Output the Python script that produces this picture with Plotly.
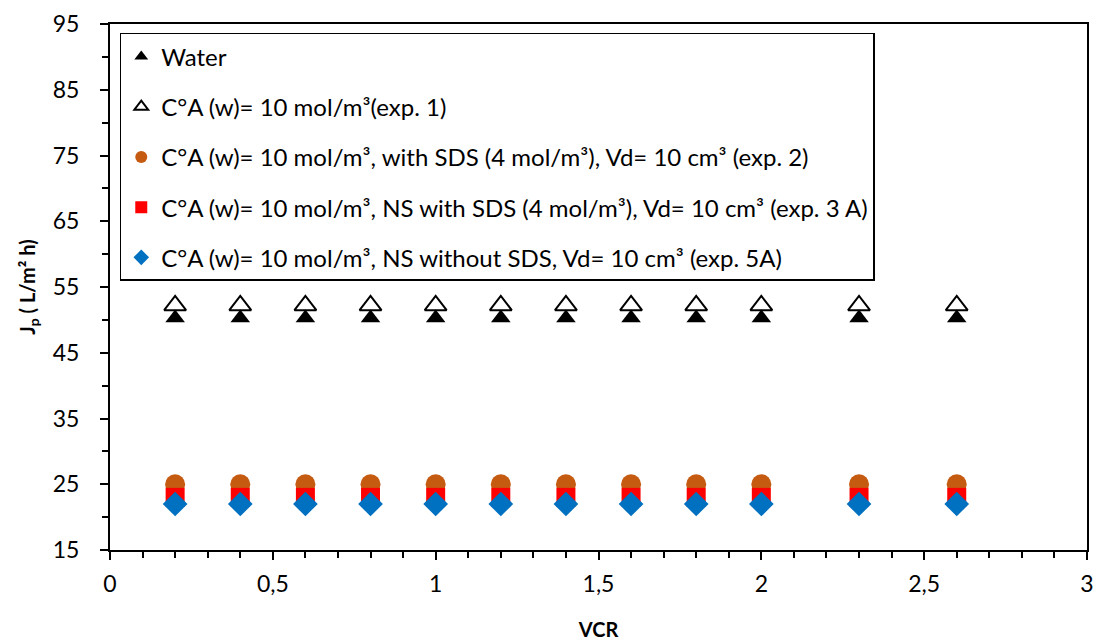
import plotly.graph_objects as go

vcr = [0.2, 0.4, 0.6, 0.8, 1.0, 1.2, 1.4, 1.6, 1.8, 2.0, 2.3, 2.6]
water = [50.3] * 12
exp1 = [52.2] * 12
exp2 = [25.0] * 12
exp3a = [23.0] * 12
exp5a = [22.0] * 12

names = [
    "Water",
    "C°A (w)= 10 mol/m³(exp. 1)",
    "C°A (w)= 10 mol/m³, with SDS (4 mol/m³), Vd= 10 cm³ (exp. 2)",
    "C°A (w)= 10 mol/m³, NS with SDS (4 mol/m³), Vd= 10 cm³ (exp. 3 A)",
    "C°A (w)= 10 mol/m³, NS without SDS, Vd= 10 cm³ (exp. 5A)",
]

FONT = "Lato"
fig = go.Figure()

specs = [
    (water, dict(symbol="triangle-up", size=17, color="black", line=dict(width=0))),
    (exp1, dict(symbol="triangle-up-open", size=19, color="black", line=dict(width=2))),
    (exp2, dict(symbol="circle", size=20, color="#C55A11", line=dict(width=0))),
    (exp3a, dict(symbol="square", size=19, color="#FF0000", line=dict(width=0))),
    (exp5a, dict(symbol="diamond", size=19, color="#0070C0", line=dict(width=0))),
]
order = [1, 0, 2, 3, 4]
for i in order:
    ys, mk = specs[i]
    fig.add_trace(go.Scatter(x=vcr, y=ys, mode="markers", name=names[i],
                             marker=mk, legendgroup=str(i), legendrank=i + 1))

fig.update_layout(
    width=1100, height=644,
    margin=dict(l=110, r=6, t=24, b=92),
    plot_bgcolor="white", paper_bgcolor="white",
    font=dict(family=FONT, color="black", size=22),
    showlegend=True,
    legend=dict(x=0.01, y=0.983, xanchor="left", yanchor="top",
                bgcolor="white", bordercolor="black", borderwidth=1.5,
                font=dict(family=FONT, size=24), tracegroupgap=16,
                traceorder="grouped", itemsizing="constant"),
    xaxis=dict(range=[0, 3], tickvals=[0, 0.5, 1, 1.5, 2, 2.5, 3],
               ticktext=["0", "0,5", "1", "1,5", "2", "2,5", "3"],
               showline=True, linecolor="black", linewidth=2, mirror=True,
               ticks="outside", ticklen=8, tickwidth=1.5, tickcolor="black",
               minor=dict(dtick=0.1, ticks="outside", ticklen=6, tickwidth=1.5, tickcolor="black"),
               showgrid=False, zeroline=False, ticklabeloverflow="allow",
               tickfont=dict(size=23), ticklabelstandoff=4,
               title=dict(text="<b>VCR</b>", font=dict(size=20), standoff=27)),
    yaxis=dict(range=[15, 95], tickvals=list(range(15, 96, 10)),
               showline=True, linecolor="black", linewidth=2, mirror=True,
               ticks="outside", ticklen=8, tickwidth=1.5, tickcolor="black",
               minor=dict(dtick=5, ticks="outside", ticklen=6, tickwidth=1.5, tickcolor="black"),
               showgrid=False, zeroline=False,
               tickfont=dict(size=23), ticklabelstandoff=16,
               title=dict(text="<b>J<sub>p</sub> ( L/m² h)</b>", font=dict(size=20), standoff=12)),
)

fig.write_html("out.html")
